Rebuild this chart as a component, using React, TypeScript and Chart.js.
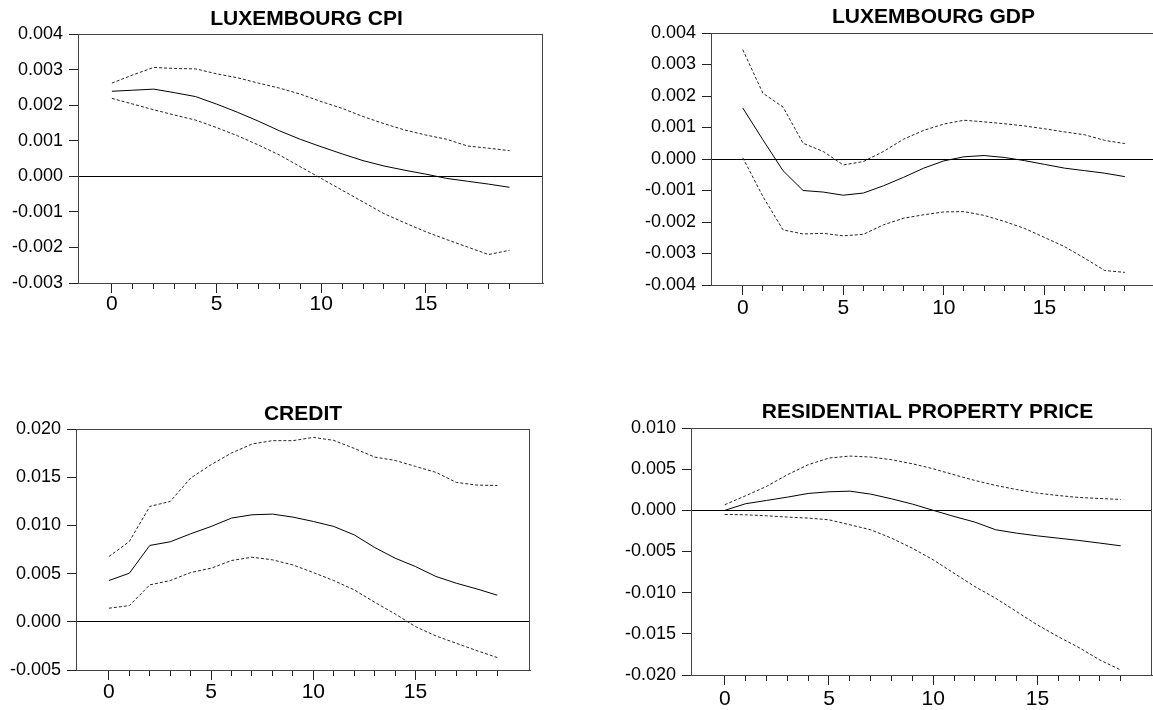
import React, { useEffect, useRef } from 'react';
import { Chart, registerables } from 'chart.js';

Chart.register(...registerables);

// ---------- data ----------
const horizon = [0, 1, 2, 3, 4, 5, 6, 7, 8, 9, 10, 11, 12, 13, 14, 15, 16, 17, 18, 19];

const cpiMean = [0.00239, 0.00242, 0.00245, 0.00235, 0.00224, 0.00203, 0.0018, 0.00155, 0.00128, 0.00104, 0.00083, 0.00063, 0.00044, 0.00029, 0.00017, 0.00006, -0.00006, -0.00014, -0.00022, -0.00031];
const cpiUpper = [0.00262, 0.00285, 0.00306, 0.00303, 0.00302, 0.00288, 0.00277, 0.00262, 0.00248, 0.00231, 0.0021, 0.00191, 0.00168, 0.00148, 0.0013, 0.00116, 0.00104, 0.00085, 0.00079, 0.00072];
const cpiLower = [0.00219, 0.00203, 0.00187, 0.00172, 0.00158, 0.00137, 0.00114, 0.00088, 0.0006, 0.00027, -0.00006, -0.00039, -0.00072, -0.00105, -0.00131, -0.00156, -0.00178, -0.00199, -0.0022, -0.00208];

const gdpMean = [0.00162, 0.00061, -0.00037, -0.001, -0.00105, -0.00115, -0.00108, -0.00085, -0.00058, -0.00029, -0.00006, 0.00007, 0.00011, 0.00005, -0.00005, -0.00017, -0.00029, -0.00037, -0.00045, -0.00056];
const gdpUpper = [0.00347, 0.00209, 0.00165, 0.0005, 0.00024, -0.00019, -0.00008, 0.00024, 0.00063, 0.00091, 0.00111, 0.00123, 0.00118, 0.00112, 0.00105, 0.00096, 0.00086, 0.00077, 0.00059, 0.00049];
const gdpLower = [0.00004, -0.00119, -0.00225, -0.00238, -0.00236, -0.00244, -0.00239, -0.00209, -0.00188, -0.00177, -0.00168, -0.00167, -0.00179, -0.00198, -0.0022, -0.00249, -0.00278, -0.00315, -0.00354, -0.0036];

const creditMean = [0.00428, 0.00504, 0.00792, 0.0083, 0.00913, 0.00989, 0.01076, 0.0111, 0.01117, 0.01086, 0.01041, 0.00989, 0.00902, 0.00771, 0.0066, 0.00573, 0.0047, 0.004, 0.00341, 0.00276];
const creditUpper = [0.00677, 0.00833, 0.01197, 0.01249, 0.01491, 0.0163, 0.01751, 0.01844, 0.01879, 0.01879, 0.01913, 0.01882, 0.01799, 0.01709, 0.01674, 0.01612, 0.0155, 0.01446, 0.01418, 0.01414];
const creditLower = [0.00141, 0.00168, 0.00383, 0.00428, 0.00511, 0.00556, 0.00636, 0.0067, 0.00643, 0.0059, 0.00511, 0.00428, 0.00331, 0.00203, 0.00082, -0.0005, -0.00147, -0.00223, -0.00299, -0.00371];

const rppMean = [0.0, 0.0008, 0.0012, 0.0016, 0.00205, 0.00225, 0.00233, 0.00197, 0.0014, 0.00076, 0.0, -0.00074, -0.00143, -0.00236, -0.00277, -0.0031, -0.00338, -0.00366, -0.00398, -0.00431];
const rppUpper = [0.00068, 0.00177, 0.0029, 0.00432, 0.00554, 0.00635, 0.00659, 0.00647, 0.00615, 0.00566, 0.00505, 0.00432, 0.00363, 0.00302, 0.00253, 0.00209, 0.0018, 0.00156, 0.00144, 0.00132];
const rppLower = [-0.0005, -0.00054, -0.00066, -0.00082, -0.00094, -0.00115, -0.00175, -0.00236, -0.00338, -0.0046, -0.00601, -0.00764, -0.00926, -0.01068, -0.0123, -0.01392, -0.01534, -0.01668, -0.01818, -0.01939];

const cpiTicks = [-0.003, -0.002, -0.001, 0, 0.001, 0.002, 0.003, 0.004];
const gdpTicks = [-0.004, -0.003, -0.002, -0.001, 0, 0.001, 0.002, 0.003, 0.004];
const creditTicks = [-0.005, 0, 0.005, 0.01, 0.015, 0.02];
const rppTicks = [-0.02, -0.015, -0.01, -0.005, 0, 0.005, 0.01];
const xLabelTicks = [0, 5, 10, 15];

const titles = ['LUXEMBOURG CPI', 'LUXEMBOURG GDP', 'CREDIT', 'RESIDENTIAL PROPERTY PRICE'];

// ---------- layout ----------
const FONT = "'Liberation Sans', Arial, Helvetica, sans-serif";

type Spec = {
  title: string;
  mean: number[];
  upper: number[];
  lower: number[];
  yTicks: number[];
  left: number; top: number; w: number; h: number;
  plotL: number; plotT: number; plotR: number; plotB: number;
  titleY: number; titleDx: number; xPad: number;
  xMin: number; xMax: number;
};

const specs: Spec[] = [
  { title: titles[0], mean: cpiMean, upper: cpiUpper, lower: cpiLower, yTicks: cpiTicks,
    left: 0, top: 0, w: 575, h: 330, plotL: 78, plotT: 34, plotR: 543, plotB: 283,
    titleY: 19, titleDx: -4, xPad: -1, xMin: -1.62, xMax: 20.6 },
  { title: titles[1], mean: gdpMean, upper: gdpUpper, lower: gdpLower, yTicks: gdpTicks,
    left: 580, top: 0, w: 580, h: 330, plotL: 131, plotT: 33, plotR: 576, plotB: 285,
    titleY: 17, titleDx: 0, xPad: 1, xMin: -1.58, xMax: 20.55 },
  { title: titles[2], mean: creditMean, upper: creditUpper, lower: creditLower, yTicks: creditTicks,
    left: 0, top: 380, w: 575, h: 330, plotL: 76, plotT: 49, plotR: 530, plotB: 290,
    titleY: 34, titleDx: 0, xPad: 0, xMin: -1.61, xMax: 20.6 },
  { title: titles[3], mean: rppMean, upper: rppUpper, lower: rppLower, yTicks: rppTicks,
    left: 580, top: 380, w: 573, h: 330, plotL: 111, plotT: 48, plotR: 572, plotB: 295,
    titleY: 32, titleDx: 6, xPad: 2, xMin: -1.62, xMax: 20.5 },
];

const fmt = (v: number) => (Math.abs(v) < 1e-12 ? '0.000' : v.toFixed(3));

function Panel({ spec }: { spec: Spec }) {
  const ref = useRef<HTMLCanvasElement>(null);
  useEffect(() => {
    const canvas = ref.current!;
    const framePlugin = {
      id: 'frame',
      afterDraw(chart: any) {
        const { ctx, chartArea } = chart;
        ctx.save();
        ctx.strokeStyle = '#444';
        ctx.lineWidth = 1;
        ctx.beginPath();
        ctx.moveTo(chartArea.left, Math.round(chartArea.top) + 0.5);
        ctx.lineTo(chartArea.right, Math.round(chartArea.top) + 0.5);
        ctx.moveTo(Math.round(chartArea.right) - 0.5, chartArea.top);
        ctx.lineTo(Math.round(chartArea.right) - 0.5, chartArea.bottom);
        ctx.stroke();
        ctx.fillStyle = '#000';
        ctx.font = `bold 21px ${FONT}`;
        ctx.textAlign = 'center';
        ctx.textBaseline = 'middle';
        ctx.fillText(spec.title, (chartArea.left + chartArea.right) / 2 + spec.titleDx, spec.titleY);
        ctx.restore();
      },
    };
    const mk = (arr: number[]) => horizon.map((h, i) => ({ x: h, y: arr[i] }));
    const chart = new Chart(canvas, {
      type: 'line',
      data: {
        datasets: [
          { data: mk(spec.upper), borderColor: '#222', borderWidth: 1, borderDash: [3, 2], pointRadius: 0, fill: false },
          { data: mk(spec.lower), borderColor: '#222', borderWidth: 1, borderDash: [3, 2], pointRadius: 0, fill: false },
          { data: mk(spec.mean), borderColor: '#000', borderWidth: 1, pointRadius: 0, fill: false },
        ],
      },
      options: {
        animation: false,
        responsive: false,
        devicePixelRatio: 1,
        layout: {
          autoPadding: false,
          padding: { left: 0, top: spec.plotT, right: spec.w - spec.plotR, bottom: 0 },
        },
        plugins: { legend: { display: false }, title: { display: false }, tooltip: { enabled: false } },
        elements: { line: { tension: 0 }, point: { radius: 0 } },
        scales: {
          x: {
            type: 'linear',
            min: spec.xMin,
            max: spec.xMax,
            bounds: 'data',
            afterBuildTicks: (s: any) => { s.ticks = horizon.map((v) => ({ value: v })); },
            afterFit: (s: any) => { s.height = spec.h - spec.plotB; },
            ticks: {
              autoSkip: false,
              maxRotation: 0,
              padding: spec.xPad,
              color: '#000',
              font: { family: FONT, size: 21 },
              callback: (v: any) => (xLabelTicks.includes(Number(v)) ? String(v) : ''),
            },
            grid: {
              drawOnChartArea: false,
              tickLength: 10,
              tickColor: '#222',
              tickBorderDash: (ctx: any) => (ctx.tick && xLabelTicks.includes(ctx.tick.value) ? [] : [5, 100]),
            },
            border: { display: true, color: '#444', width: 1 },
          },
          y: {
            type: 'linear',
            min: spec.yTicks[0],
            max: spec.yTicks[spec.yTicks.length - 1],
            afterBuildTicks: (s: any) => { s.ticks = spec.yTicks.map((v) => ({ value: v })); },
            afterFit: (s: any) => { s.width = spec.plotL; },
            ticks: {
              padding: 6,
              color: '#000',
              font: { family: FONT, size: 18 },
              callback: (v: any) => fmt(Number(v)),
            },
            grid: {
              drawOnChartArea: true,
              tickLength: 9,
              tickColor: '#222',
              color: (ctx: any) => (ctx.tick && Math.abs(ctx.tick.value) < 1e-12 ? '#000' : 'rgba(0,0,0,0)'),
            },
            border: { display: true, color: '#444', width: 1 },
          },
        },
      } as any,
      plugins: [framePlugin],
    });
    return () => chart.destroy();
  }, [spec]);
  return (
    <canvas
      ref={ref}
      width={spec.w}
      height={spec.h}
      style={{ position: 'absolute', left: spec.left, top: spec.top, width: spec.w, height: spec.h }}
    />
  );
}

export default function App() {
  return (
    <div style={{ position: 'absolute', left: 0, top: 0, width: 1153, height: 710, overflow: 'hidden', background: '#fff' }}>
      {specs.map((s) => (
        <Panel key={s.title} spec={s} />
      ))}
    </div>
  );
}
